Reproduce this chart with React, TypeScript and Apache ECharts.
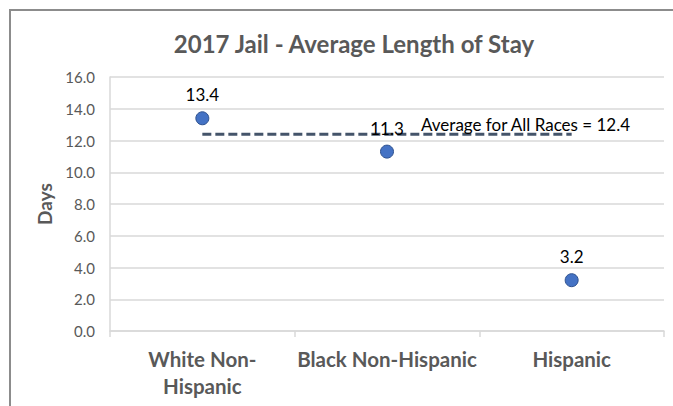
import React, { useEffect, useRef } from "react";
import * as echarts from "echarts";

const categories = ["White Non-Hispanic", "Black Non-Hispanic", "Hispanic"];
const avgLengthOfStay = [13.4, 11.3, 3.2];
const allRacesAverage = 12.4;
const yTicks = { min: 0, max: 16, interval: 2 };

const FONT = "Lato";

export default function App() {
  const ref = useRef<HTMLDivElement>(null);
  useEffect(() => {
    if (!ref.current) return;
    const chart = echarts.init(ref.current, null, { renderer: "svg" });
    const avgData = categories.map((_, i) =>
      i === 1
        ? {
            value: allRacesAverage,
            label: {
              show: true,
              position: "right",
              distance: 34,
              offset: [0, -10],
              formatter: `Average for All Races = ${allRacesAverage}`,
              color: "#000",
              fontFamily: FONT,
              fontSize: 17,
            },
          }
        : allRacesAverage
    );
    chart.setOption({
      animation: false,
      backgroundColor: "#fff",
      textStyle: { fontFamily: FONT },
      title: {
        text: "2017 Jail - Average Length of Stay",
        left: 349,
        textAlign: "center",
        top: 26,
        textStyle: { fontFamily: FONT, fontWeight: "bold", fontSize: 24, color: "#595959" },
      },
      graphic: [
        {
          type: "rect",
          shape: { x: 10, y: 10, width: 700, height: 420 },
          style: { fill: "none", stroke: "#8c8c8c", lineWidth: 2 },
          silent: true,
        },
      ],
      grid: { left: 110, right: 9, top: 77, bottom: 75 },
      xAxis: {
        type: "category",
        data: categories,
        boundaryGap: true,
        axisLine: { show: true, lineStyle: { color: "#d9d9d9", width: 1.5 } },
        axisTick: { show: true, length: 6, lineStyle: { color: "#d9d9d9", width: 1.5 } },
        axisLabel: {
          margin: 14,
          interval: 0,
          fontFamily: FONT,
          fontWeight: "bold",
          fontSize: 20.5,
          color: "#595959",
          lineHeight: 27,
          formatter: (v: string, i: number) => (i === 0 ? v.replace("Non-", "Non-\n") : v),
        },
        splitLine: { show: false },
      },
      yAxis: {
        type: "value",
        min: yTicks.min,
        max: yTicks.max,
        interval: yTicks.interval,
        name: "Days",
        nameLocation: "middle",
        nameGap: 55,
        nameRotate: 90,
        nameTextStyle: { fontFamily: FONT, fontWeight: "bold", fontSize: 19, color: "#595959" },
        axisLine: { show: true, lineStyle: { color: "#d9d9d9", width: 1.5 } },
        axisTick: { show: false },
        axisLabel: {
          margin: 15,
          fontFamily: FONT,
          fontSize: 15,
          color: "#595959",
          formatter: (v: number) => v.toFixed(1),
        },
        splitLine: { show: true, lineStyle: { color: "#d9d9d9", width: 1.5 } },
      },
      series: [
        {
          name: "Average",
          type: "line",
          data: avgData,
          symbol: "circle",
          symbolSize: 0,
          showSymbol: true,
          itemStyle: { color: "#44546A" },
          lineStyle: { color: "#44546A", width: 3, type: [9, 4] },
          z: 1,
        },
        {
          name: "Average Length of Stay",
          type: "line",
          data: avgLengthOfStay,
          symbol: "circle",
          symbolSize: 13,
          lineStyle: { opacity: 0, width: 0 },
          itemStyle: { color: "#4472C4", borderColor: "#2F528F", borderWidth: 1 },
          label: {
            show: true,
            position: "top",
            distance: 8,
            color: "#000",
            fontFamily: FONT,
            fontSize: 17,
            formatter: (p: any) => p.value.toFixed(1),
          },
          z: 3,
        },
      ],
    });
    return () => chart.dispose();
  }, []);
  return (
    <div
      ref={ref}
      style={{ position: "fixed", left: 0, top: 0, width: 673, height: 406 }}
    />
  );
}
